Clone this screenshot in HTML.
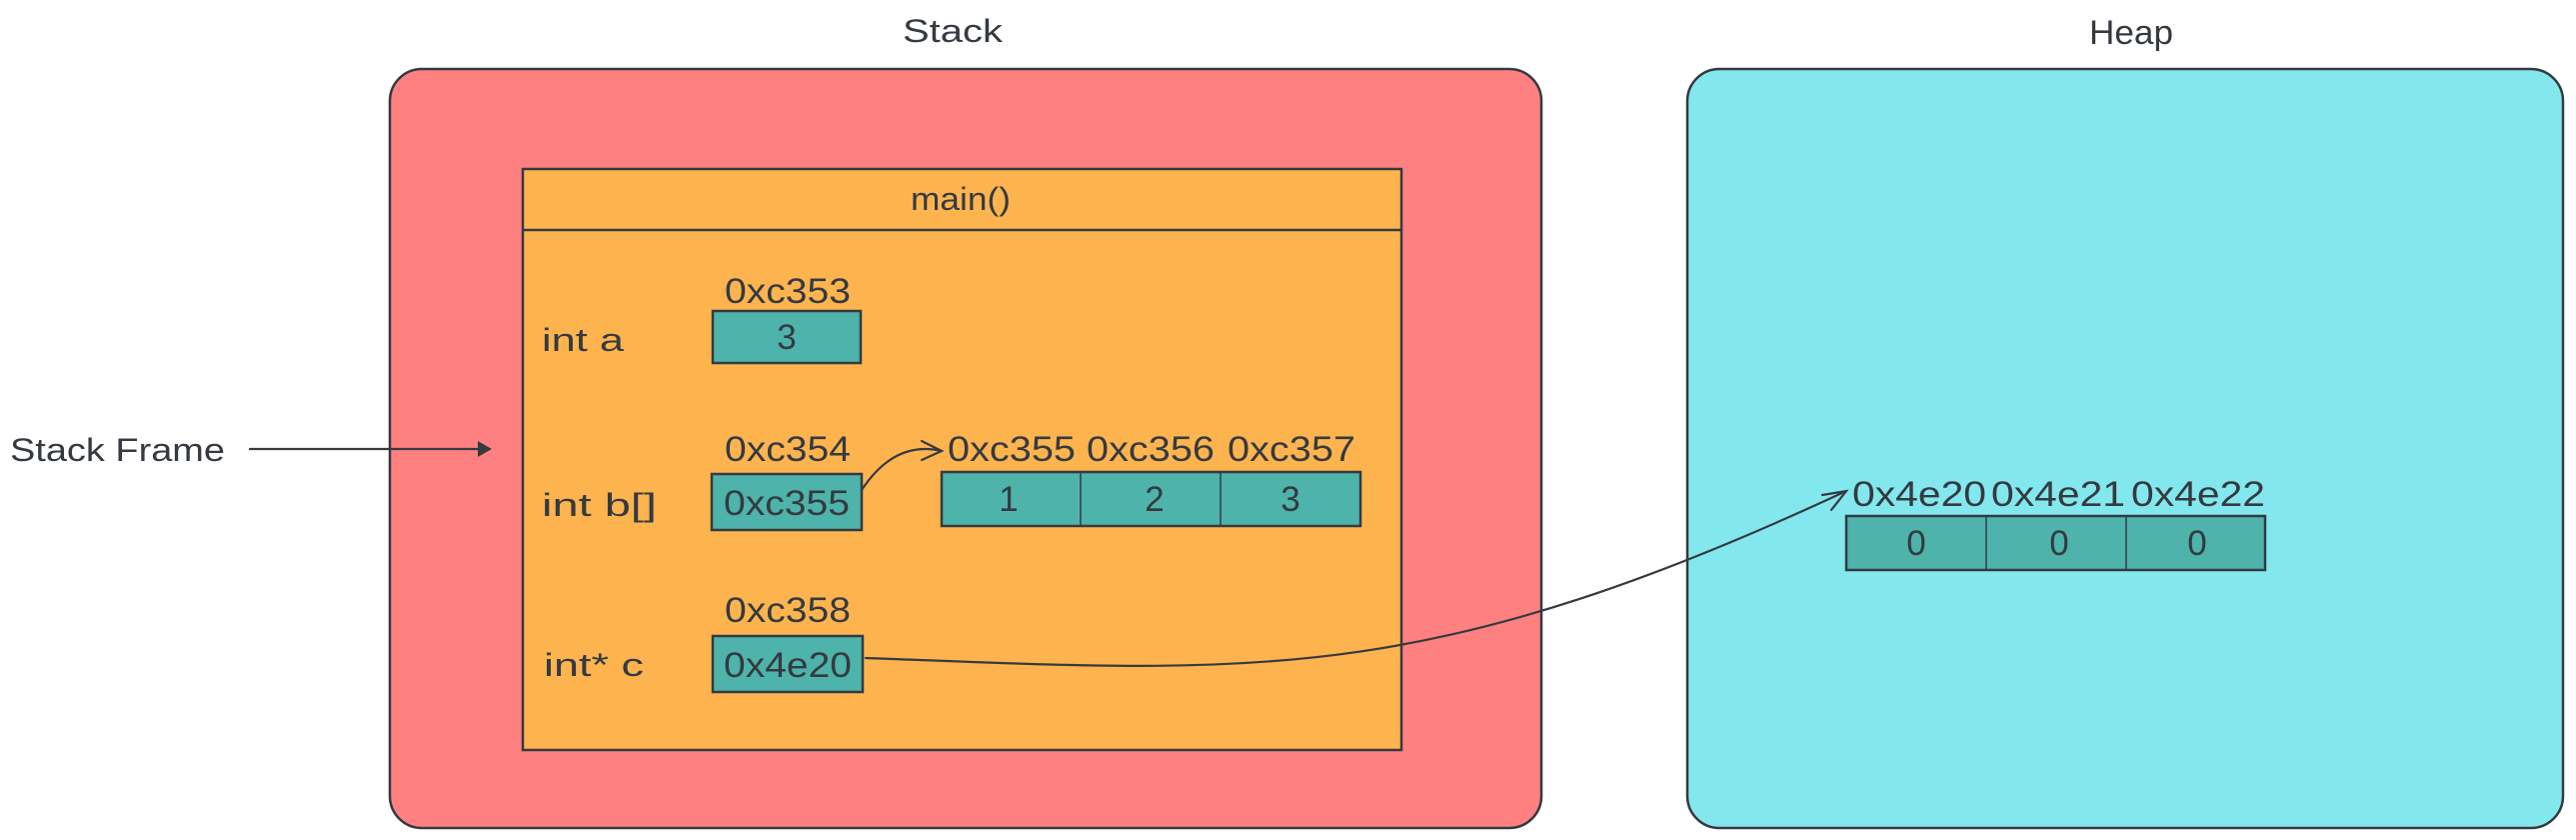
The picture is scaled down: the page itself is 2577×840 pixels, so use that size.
<!DOCTYPE html>
<html><head><meta charset="utf-8"><style>
html,body{margin:0;padding:0;background:#fff;}
svg{display:block;}
text{font-family:"Liberation Sans",sans-serif;fill:#343a40;}
</style></head><body>
<svg width="2577" height="840" viewBox="0 0 2577 840" xmlns="http://www.w3.org/2000/svg">
<g stroke="#343a40" stroke-width="2.5">
<rect x="390" y="69" width="1152" height="759" rx="32" fill="#ff8080"/>
<rect x="1688" y="69" width="876" height="759" rx="32" fill="#83e8ee"/>
<rect x="523" y="169" width="879" height="581" fill="#fdb44f"/>
<line x1="523" y1="230" x2="1402" y2="230"/>
<rect x="713" y="311" width="148" height="52" fill="#4db3ab"/>
<rect x="712" y="474" width="150" height="56" fill="#4db3ab"/>
<rect x="713" y="636" width="150" height="56" fill="#4db3ab"/>
<rect x="942" y="472" width="419" height="54" fill="#4db3ab"/>
<line x1="1081" y1="472" x2="1081" y2="526" stroke-width="1.5"/>
<line x1="1221" y1="472" x2="1221" y2="526" stroke-width="1.5"/>
<rect x="1847" y="516" width="419" height="54" fill="#4db3ab"/>
<line x1="1987" y1="516" x2="1987" y2="570" stroke-width="1.5"/>
<line x1="2127" y1="516" x2="2127" y2="570" stroke-width="1.5"/>
</g>
<g stroke="#343a40" stroke-width="2.2" fill="none" stroke-linecap="round">
<path d="M862 490 Q895 440 942 451"/>
<path d="M922 441 L942 451 L922 460"/>
<path d="M866 658 C1250 672 1420 690 1847 491"/>
<path d="M1823 495 L1847 491 L1832 510"/>
<line x1="250" y1="449" x2="478" y2="449"/>
</g>
<path d="M478 441 L492 449 L478 457 Z" fill="#343a40"/>
<g font-size="32">
<text x="953" y="42" text-anchor="middle" textLength="100" lengthAdjust="spacingAndGlyphs">Stack</text>
<text x="2132" y="44" text-anchor="middle" font-size="34" textLength="84" lengthAdjust="spacingAndGlyphs">Heap</text>
<text x="961" y="210" text-anchor="middle" textLength="100" lengthAdjust="spacingAndGlyphs">main()</text>
<text x="10" y="461" textLength="215" lengthAdjust="spacingAndGlyphs">Stack Frame</text>
<text x="542" y="351" textLength="82" lengthAdjust="spacingAndGlyphs">int a</text>
<text x="542" y="516" textLength="115" lengthAdjust="spacingAndGlyphs">int b[]</text>
<text x="544" y="676" textLength="100" lengthAdjust="spacingAndGlyphs">int* c</text>
</g>
<g font-size="35" text-anchor="middle" lengthAdjust="spacingAndGlyphs">
<text x="788" y="303" textLength="126" lengthAdjust="spacingAndGlyphs">0xc353</text>
<text x="788" y="461" textLength="126" lengthAdjust="spacingAndGlyphs">0xc354</text>
<text x="788" y="622" textLength="126" lengthAdjust="spacingAndGlyphs">0xc358</text>
<text x="787" y="349">3</text>
<text x="787" y="515" textLength="126" lengthAdjust="spacingAndGlyphs">0xc355</text>
<text x="788" y="677" textLength="128" lengthAdjust="spacingAndGlyphs">0x4e20</text>
<text x="1012" y="461" textLength="128" lengthAdjust="spacingAndGlyphs">0xc355</text>
<text x="1151" y="461" textLength="128" lengthAdjust="spacingAndGlyphs">0xc356</text>
<text x="1292" y="461" textLength="128" lengthAdjust="spacingAndGlyphs">0xc357</text>
<text x="1009" y="511">1</text>
<text x="1155" y="511">2</text>
<text x="1291" y="511">3</text>
<text x="1920" y="506" textLength="134" lengthAdjust="spacingAndGlyphs">0x4e20</text>
<text x="2059" y="506" textLength="134" lengthAdjust="spacingAndGlyphs">0x4e21</text>
<text x="2199" y="506" textLength="134" lengthAdjust="spacingAndGlyphs">0x4e22</text>
<text x="1917" y="555">0</text>
<text x="2060" y="555">0</text>
<text x="2198" y="555">0</text>
</g>
</svg>
</body></html>
